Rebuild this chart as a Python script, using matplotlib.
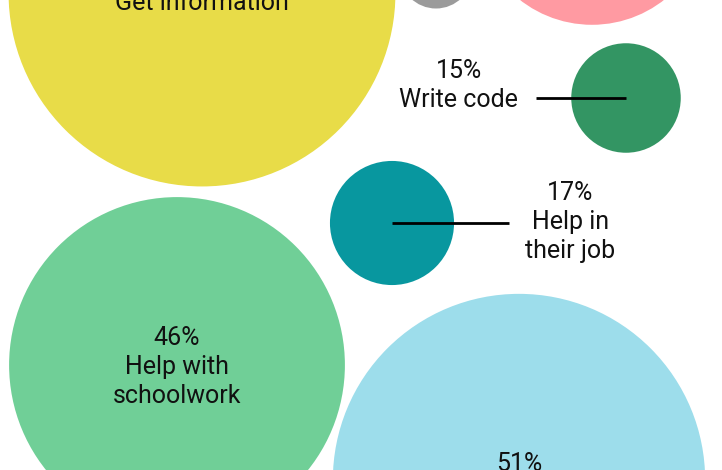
import matplotlib
matplotlib.use('Agg')
import matplotlib.pyplot as plt
from matplotlib.patches import Circle

plt.rcParams['font.family'] = ['Roboto', 'DejaVu Sans']

# values (percent) and labels
uses = ['Get information', 'gray', 'pink', 'Write code', 'Help in\ntheir job',
        'Help with\nschoolwork', 'light blue']
pct = [53, 10, 32, 15, 17, 46, 51]
colors = ['#E8DC48', '#9B9B9B', '#FF9AA2', '#339563', '#08979F', '#70CF97', '#9DDDEB']

# packed layout (pixel units), radius = pct * k
k = 3.65
centers = [(202, -7), (436, -28), (592, -92), (626, 98), (392, 223), (177, 365), (519, 480)]

fig = plt.figure(figsize=(7.22, 4.70), dpi=100)
ax = fig.add_axes([0, 0, 1, 1])
ax.set_xlim(0, 722)
ax.set_ylim(470, 0)
ax.set_aspect('equal')
ax.axis('off')

for (cx, cy), p, c in zip(centers, pct, colors):
    ax.add_patch(Circle((cx, cy), p * k, facecolor=c, edgecolor='none'))

fs = 18
ls = 1.25
tc = '#111111'
# labels inside the big circles
ax.text(centers[0][0], centers[0][1] - 4, '%d%%\n%s' % (pct[0], uses[0]), ha='center', va='center',
        fontsize=fs, linespacing=ls, color=tc)
ax.text(centers[5][0], centers[5][1] + 2, '%d%%\n%s' % (pct[5], uses[5]), ha='center', va='center',
        fontsize=fs, linespacing=ls, color=tc)
ax.text(centers[6][0], centers[6][1] - 16, '%d%%' % pct[6], ha='center', va='center',
        fontsize=fs, color=tc)

# labels outside the small circles, with a leader line
cx, cy = centers[3]
ax.plot([cx, cx - 90], [cy, cy], color='black', lw=2, solid_capstyle='butt')
ax.text(cx - 108, cy + 14, '%d%%\n%s' % (pct[3], uses[3]), ha='right', va='bottom',
        multialignment='center', fontsize=fs, linespacing=ls, color=tc)

cx, cy = centers[4]
ax.plot([cx, cx + 117], [cy, cy], color='black', lw=2, solid_capstyle='butt')
ax.text(cx + 133, cy - 1, '%d%%\n%s' % (pct[4], uses[4]), ha='left', va='center',
        multialignment='center', fontsize=fs, linespacing=ls, color=tc)

fig.savefig('out.png', dpi=100)
